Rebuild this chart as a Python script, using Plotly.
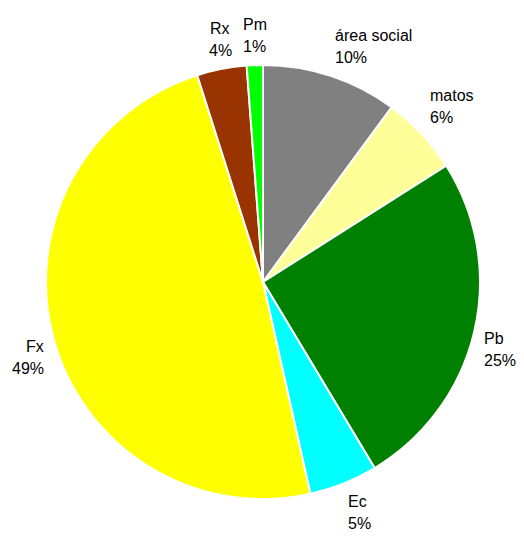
import math
import plotly.graph_objects as go

labels = ["área social", "matos", "Pb", "Ec", "Fx", "Rx", "Pm"]
values = [10.1, 5.9, 25.4, 5.1, 48.6, 3.7, 1.2]
colors = ["#808080", "#FFFF99", "#008000", "#00FFFF", "#FFFF00", "#993300", "#00FF00"]

W, H = 524, 540
PAGE_OFFSET = 8               # default body margin of the page
CX, CY, R = 263 - PAGE_OFFSET, 282 - PAGE_OFFSET, 217   # pie centre / radius (px)
LABEL_GAP = 8                 # distance of label anchor beyond the rim
HALF_BLOCK = 22               # half height of a two-line label block
LINE_HALF = 11                # half line spacing
FONT = dict(family="Liberation Sans, Arial, sans-serif", size=16, color="black")

fig = go.Figure(go.Pie(
    labels=labels,
    values=values,
    sort=False,
    direction="clockwise",
    rotation=0,
    marker=dict(colors=colors, line=dict(color="white", width=2)),
    textinfo="none",
    showlegend=False,
    hoverinfo="label+percent",
    domain=dict(x=[(CX - R) / W, (CX + R) / W], y=[1 - (CY + R) / H, 1 - (CY - R) / H]),
))

total = sum(values)
cum = 0.0
annotations = []
for lab, v in zip(labels, values):
    frac_mid = (cum + v / 2) / total
    cum += v
    pct = round(100 * v / total)
    th = 2 * math.pi * frac_mid
    s, c = math.sin(th), math.cos(th)
    ax = CX + (R + LABEL_GAP) * s
    ay = CY - (R + LABEL_GAP) * c
    if s > 0.3:
        xanchor = "left"
    elif s < -0.3:
        xanchor = "right"
    else:
        xanchor = "center"
    k = max(-1.0, min(1.0, 3 * c))
    by = ay - HALF_BLOCK * k   # block centre (pixels from top)
    for txt, dy in ((lab, -LINE_HALF), (f"{pct}%", LINE_HALF)):
        annotations.append(dict(
            x=ax / W, y=1 - (by + dy) / H, xref="paper", yref="paper",
            text=txt, showarrow=False, xanchor=xanchor, yanchor="middle",
            font=FONT,
        ))

fig.update_layout(
    width=W, height=H,
    margin=dict(l=0, r=0, t=0, b=0),
    paper_bgcolor="white",
    plot_bgcolor="white",
    annotations=annotations,
)

fig.write_html("out.html")
